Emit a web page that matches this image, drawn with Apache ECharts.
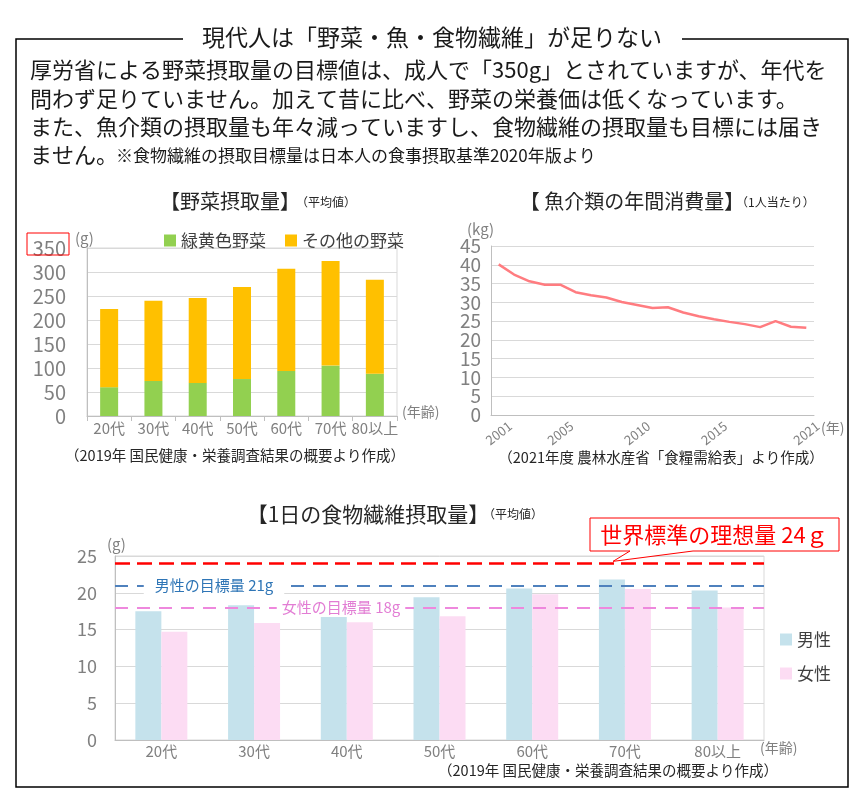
<!DOCTYPE html>
<html><head><meta charset="utf-8">
<script src="https://cdn.jsdelivr.net/npm/echarts@6/dist/echarts.min.js"></script>
<style>html,body{margin:0;padding:0;background:#fff}#c{width:864px;height:800px}</style>
</head><body><div id="c"></div>
<script>
const FONT = '"Noto Sans CJK JP", "Noto Sans", sans-serif';

// ---- texts ----
const mainTitle = '現代人は「野菜・魚・食物繊維」が足りない';
const bodyLines = [
  '厚労省による野菜摂取量の目標値は、成人で「350g」とされていますが、年代を',
  '問わず足りていません。加えて昔に比べ、野菜の栄養価は低くなっています。',
  'また、魚介類の摂取量も年々減っていますし、食物繊維の摂取量も目標には届き',
  'ません。'
];
const bodyNote = '※食物繊維の摂取目標量は日本人の食事摂取基準2020年版より';

// ---- vegetable chart ----
const vegCategories = ['20代', '30代', '40代', '50代', '60代', '70代', '80以上'];
const vegGreenYellow = [60, 73, 69, 77, 94, 105, 88];
const vegOther = [163, 167, 177, 192, 213, 218, 196];
const vegSeriesNames = ['緑黄色野菜', 'その他の野菜'];

// ---- fish chart ----
const fishYears = ['2001','2002','2003','2004','2005','2006','2007','2008','2009','2010',
  '2011','2012','2013','2014','2015','2016','2017','2018','2019','2020','2021'];
const fishKg = [40.1, 37.4, 35.6, 34.7, 34.7, 32.7, 31.9, 31.3, 30.1, 29.3,
  28.5, 28.7, 27.3, 26.3, 25.5, 24.8, 24.2, 23.4, 25.0, 23.5, 23.2];
const fishLabelYears = ['2001', '2005', '2010', '2015', '2021'];

// ---- fiber chart ----
const fiberCategories = ['20代', '30代', '40代', '50代', '60代', '70代', '80以上'];
const fiberMale = [17.5, 18.3, 16.7, 19.4, 20.6, 21.8, 20.3];
const fiberFemale = [14.7, 15.9, 16.0, 16.8, 19.8, 20.5, 18.0];
const fiberSeriesNames = ['男性', '女性'];
const idealFiber = 24;
const maleTarget = 21;
const femaleTarget = 18;

const GRAY = '#808080';
const GRID = '#d9d9d9';
const AXIS = '#bfbfbf';
const DARK = '#262626';

const chart = echarts.init(document.getElementById('c'), null, {renderer: 'canvas'});

function txt(text, x, y, size, color, align, extra) {
  return {
    type: 'text', silent: true, z: 100,
    style: Object.assign({
      text: text, x: x, y: y, fill: color,
      fontSize: size, fontFamily: FONT,
      align: align || 'left', textAlign: align || 'left',
      verticalAlign: 'middle', textVerticalAlign: 'middle'
    }, extra || {})
  };
}

// fish y-axis labels are split over two overlaid axes so that none get auto-hidden
function fishLabelTens(v) { return v % 10 === 0 ? String(v) : ''; }
function fishLabelFives(v) { return v % 10 === 5 ? String(v) : ''; }

const option = {
  animation: false,
  backgroundColor: '#fff',
  textStyle: {fontFamily: FONT},
  legend: [
    {data: vegSeriesNames, left: 159, top: 227, icon: 'rect', itemWidth: 12, itemHeight: 12,
     itemGap: 19, textStyle: {fontSize: 17, color: '#404040', fontFamily: FONT}},
    {data: fiberSeriesNames, orient: 'vertical', left: 775, top: 626, icon: 'rect',
     itemWidth: 12, itemHeight: 12, itemGap: 17,
     textStyle: {fontSize: 17, color: '#404040', fontFamily: FONT}}
  ],
  grid: [
    {left: 87, top: 248, width: 310, height: 168, show: true, borderColor: GRID, borderWidth: 1},
    {left: 491, top: 246, width: 323, height: 169, show: false},
    {left: 115, top: 556, width: 649, height: 184, show: true, borderColor: GRID, borderWidth: 1}
  ],
  xAxis: [
    {gridIndex: 0, type: 'category', data: vegCategories,
     axisLine: {lineStyle: {color: AXIS}},
     axisTick: {show: true, length: 5, lineStyle: {color: AXIS}},
     axisLabel: {interval: 0, color: GRAY, fontSize: 15, margin: 5}},
    {gridIndex: 1, type: 'category', data: fishYears, boundaryGap: true,
     axisLine: {lineStyle: {color: AXIS}},
     axisTick: {show: false},
     axisLabel: {interval: function (i, v) { return fishLabelYears.indexOf(v) >= 0; },
       rotate: 38, align: 'center', verticalAlign: 'middle', margin: 18, color: GRAY, fontSize: 13}},
    {gridIndex: 2, type: 'category', data: fiberCategories,
     axisLine: {lineStyle: {color: AXIS}},
     axisTick: {show: false},
     axisLabel: {interval: 0, color: GRAY, fontSize: 15, margin: 4}}
  ],
  yAxis: [
    {gridIndex: 0, type: 'value', min: 0, max: 350, interval: 50,
     axisLine: {show: true, lineStyle: {color: AXIS}}, axisTick: {show: false},
     splitLine: {lineStyle: {color: GRID}},
     axisLabel: {color: GRAY, fontSize: 20, margin: 21}},
    {gridIndex: 1, type: 'value', min: 0, max: 45, interval: 5, position: 'left', offset: 0,
     axisLine: {show: true, lineStyle: {color: AXIS}}, axisTick: {show: false},
     splitLine: {lineStyle: {color: GRID}},
     axisLabel: {color: GRAY, fontSize: 19, margin: 10, formatter: fishLabelTens,
       showMinLabel: true, showMaxLabel: false}},
    {gridIndex: 2, type: 'value', min: 0, max: 25, interval: 5,
     axisLine: {show: true, lineStyle: {color: AXIS}}, axisTick: {show: false},
     splitLine: {lineStyle: {color: GRID}},
     axisLabel: {color: GRAY, fontSize: 18, margin: 18}},
    {gridIndex: 1, type: 'value', min: 0, max: 45, interval: 5, position: 'left', offset: 0,
     axisLine: {show: false}, axisTick: {show: false}, splitLine: {show: false},
     axisLabel: {color: GRAY, fontSize: 19, margin: 10, formatter: fishLabelFives,
       showMinLabel: false, showMaxLabel: true}}
  ],
  series: [
    {name: vegSeriesNames[0], type: 'bar', xAxisIndex: 0, yAxisIndex: 0, stack: 'veg',
     data: vegGreenYellow, barWidth: 18, itemStyle: {color: '#92d050'}},
    {name: vegSeriesNames[1], type: 'bar', xAxisIndex: 0, yAxisIndex: 0, stack: 'veg',
     data: vegOther, barWidth: 18, itemStyle: {color: '#ffc000'}},
    {name: '魚介類', type: 'line', xAxisIndex: 1, yAxisIndex: 1, data: fishKg,
     symbol: 'none', lineStyle: {color: '#ff7c80', width: 2.5}, itemStyle: {color: '#ff7c80'}},
    {name: fiberSeriesNames[0], type: 'bar', xAxisIndex: 2, yAxisIndex: 2, data: fiberMale,
     barWidth: 26, barGap: '0%', itemStyle: {color: '#c5e2ec'},
     markLine: {silent: true, symbol: ['none', 'none'], label: {show: false}, z: 10,
       data: [
         {yAxis: idealFiber, lineStyle: {color: '#ff0000', width: 2.6, type: [15, 7]}},
         {yAxis: maleTarget, lineStyle: {color: '#4f81bd', width: 2.2, type: [13, 9]}},
         {yAxis: femaleTarget, lineStyle: {color: '#ee88dd', width: 2.2, type: [13, 9]}}
       ]}},
    {name: fiberSeriesNames[1], type: 'bar', xAxisIndex: 2, yAxisIndex: 2, data: fiberFemale,
     barWidth: 26, barGap: '0%', itemStyle: {color: '#fcdcf3'}}
  ]
};
chart.setOption(option);

const y24 = chart.convertToPixel({yAxisIndex: 2}, idealFiber);
const y21 = chart.convertToPixel({yAxisIndex: 2}, maleTarget);
const y18 = chart.convertToPixel({yAxisIndex: 2}, femaleTarget);

const graphics = [
  // outer frame
  {type: 'polyline', silent: true, z: 100,
   shape: {points: [[183, 39], [16, 39], [16, 787], [848, 787], [848, 39], [682, 39]]},
   style: {stroke: '#000', lineWidth: 1.5, fill: null}},
  txt(mainTitle, 432, 37, 23, '#1a1a1a', 'center'),
  txt(bodyLines[0], 30, 70, 22, '#1a1a1a'),
  txt(bodyLines[1], 30, 99, 22, '#1a1a1a'),
  txt(bodyLines[2], 30, 127, 22, '#1a1a1a'),
  txt(bodyLines[3], 30, 155, 22, '#1a1a1a'),
  txt(bodyNote, 116, 156, 17, '#1a1a1a'),
  // chart titles
  txt('【野菜摂取量】', 230, 201, 20, DARK, 'center'),
  txt('（平均値）', 296, 202, 12, DARK),
  txt('【 魚介類の年間消費量】', 632, 201, 20, DARK, 'center'),
  txt('（1人当たり）', 736, 202, 12, DARK),
  txt('【1日の食物繊維摂取量】', 368, 514, 21, DARK, 'center'),
  txt('（平均値）', 483, 514, 12, DARK),
  // units
  txt('(g)', 75, 238, 15, GRAY),
  txt('(年齢)', 402, 412, 14, GRAY),
  txt('(kg)', 467, 229, 15, GRAY),
  txt('(年)', 821, 428, 14, GRAY),
  txt('(g)', 107, 544, 15, GRAY),
  txt('(年齢)', 760, 748, 14, GRAY),
  // sources
  txt('（2019年 国民健康・栄養調査結果の概要より作成）', 235, 455, 14.5, DARK, 'center'),
  txt('（2021年度 農林水産省「食糧需給表」より作成）', 661, 457, 14.5, DARK, 'center'),
  txt('（2019年 国民健康・栄養調査結果の概要より作成）', 608, 770, 14.5, DARK, 'center'),
  // red box around 350
  {type: 'rect', silent: true, z: 100, shape: {x: 27, y: 233, width: 42, height: 22},
   style: {stroke: '#ff0000', lineWidth: 1, fill: null}},
  // target labels
  txt('男性の目標量 21g', 214, y21, 15, '#2e75b6', 'center',
      {backgroundColor: '#fff', padding: [1, 11, 1, 11]}),
  txt('女性の目標量 18g', 341, y18, 15, '#e27dd4', 'center',
      {backgroundColor: '#fff', padding: [1, 5, 1, 5]}),
  // callout
  {type: 'polygon', silent: true, z: 100,
   shape: {points: [[590, 518], [839, 518], [839, 551], [693, 551], [613, y24 - 2], [630, 551], [590, 551]]},
   style: {stroke: '#ff0000', lineWidth: 1, fill: '#fff'}},
  txt('世界標準の理想量 24ｇ', 714, 535, 22, '#ff0000', 'center')
];
chart.setOption({graphic: graphics});
</script>
</body></html>
